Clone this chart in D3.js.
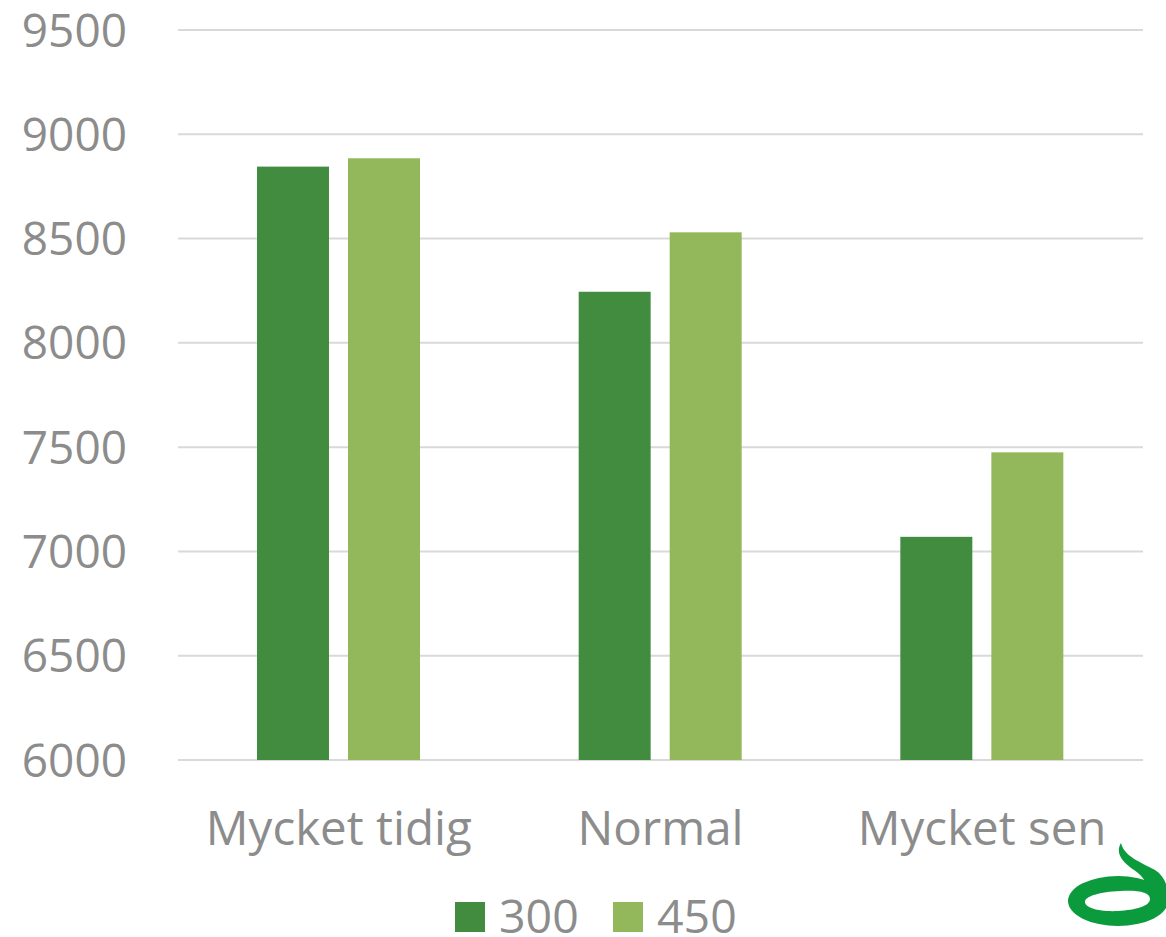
<!DOCTYPE html>
<html><head><meta charset="utf-8">
<script src="https://cdn.jsdelivr.net/npm/d3@7"></script>
<style>html,body{margin:0;padding:0;background:#fff;}svg{display:block;}</style>
</head><body>
<svg id="chart" width="1166" height="937"></svg>
<script>
const categories = ["Mycket tidig", "Normal", "Mycket sen"];
const seriesNames = ["300", "450"];
const series300 = [8845, 8245, 7070];
const series450 = [8885, 8530, 7475];
const yTicks = [6000, 6500, 7000, 7500, 8000, 8500, 9000, 9500];
const colors = ["#428C40", "#93B85B"];

const svg = d3.select("#chart");
const font = "'Open Sans', sans-serif";
const textColor = "#8c8c8c";

const x = d3.scaleBand().domain(categories).range([178, 1143]).paddingInner(0).paddingOuter(0);
const y = d3.scaleLinear().domain([6000, 9500]).range([760, 30]);
const xs = d3.scaleBand().domain(seriesNames).range([79, 242]).paddingInner(0.209).paddingOuter(0);

// gridlines
svg.append("g").selectAll("line").data(yTicks).join("line")
  .attr("x1", 178).attr("x2", 1143)
  .attr("y1", d => y(d)).attr("y2", d => y(d))
  .attr("stroke", "#d9d9d9").attr("stroke-width", 2);

// y axis labels
const yAxis = d3.axisLeft(y).tickValues(yTicks).tickSize(0).tickPadding(0).tickFormat(d3.format("d"));
const ya = svg.append("g").attr("transform", "translate(127,0)").call(yAxis);
ya.select(".domain").remove();
ya.selectAll("text").attr("font-family", font).attr("font-size", 46).attr("fill", textColor).attr("dy", "0.35em");

// bars
const data = categories.map((c, i) => ({c, vals: [series300[i], series450[i]]}));
const groups = svg.append("g").selectAll("g").data(data).join("g")
  .attr("transform", d => `translate(${x(d.c)},0)`);
groups.selectAll("rect").data(d => d.vals.map((v, j) => ({s: seriesNames[j], v, j}))).join("rect")
  .attr("x", d => xs(d.s)).attr("width", xs.bandwidth())
  .attr("y", d => y(d.v)).attr("height", d => y(6000) - y(d.v))
  .attr("fill", d => colors[d.j]);

// x axis labels
const xAxis = d3.axisBottom(x).tickSize(0).tickPadding(0);
const xa = svg.append("g").attr("transform", "translate(0,811)").call(xAxis);
xa.select(".domain").remove();
xa.selectAll("text").attr("font-family", font).attr("font-size", 47.5).attr("fill", textColor).attr("dy", "0.71em");

// legend
const legendX = [455, 613];
const lg = svg.append("g").selectAll("g").data(seriesNames).join("g")
  .attr("transform", (d, i) => `translate(${legendX[i]},902)`);
lg.append("rect").attr("width", 30).attr("height", 30).attr("fill", (d, i) => colors[i]);
lg.append("text").attr("x", 44).attr("y", 31).text(d => d)
  .attr("font-family", font).attr("font-size", 46.5).attr("fill", textColor);

// logo
const logo = svg.append("g").attr("fill", "#0b9a3c");
logo.append("path").attr("fill-rule", "evenodd")
  .attr("d", "M1068,901 A50,25 0 1,0 1168,901 A50,25 0 1,0 1068,901 Z M1085,902 C1085,908 1100,912 1118,911 C1136,910 1150,906 1150,899 C1150,892 1138,890 1120,891 C1100,892 1085,896 1085,902 Z");
logo.append("path")
  .attr("d", "M1121,843 C1124,856 1140,862 1155,870 C1166,877 1170,890 1166,905 L1150,906 C1152,890 1146,878 1134,870 C1122,862 1115,853 1121,843 Z");
</script>
</body></html>
